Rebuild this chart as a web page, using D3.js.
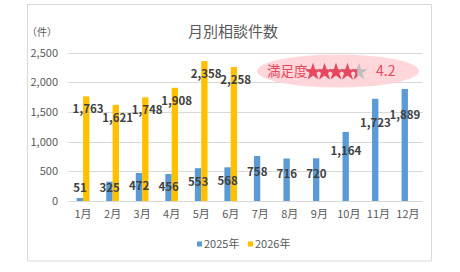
<!DOCTYPE html>
<html lang="ja">
<head>
<meta charset="utf-8">
<title>月別相談件数</title>
<script src="https://cdn.jsdelivr.net/npm/d3@7"></script>
<style>
  body { margin: 0; background: #fff; }
  svg text { font-family: "Noto Sans CJK JP", "Noto Sans", sans-serif; }
</style>
</head>
<body>
<script>
// data
var months = ["1月","2月","3月","4月","5月","6月","7月","8月","9月","10月","11月","12月"];
var seriesNames = ["2025年", "2026年"];
var values2025 = [51, 325, 472, 456, 553, 568, 758, 716, 720, 1164, 1723, 1889];
var values2026 = [1763, 1621, 1748, 1908, 2358, 2258];
var yTicks = [0, 500, 1000, 1500, 2000, 2500];
var rating = 4.2;

var colors = ["#5B9BD5", "#FFC000"];
var w = 460, h = 272;

var svg = d3.select("body").append("svg")
    .attr("width", w)
    .attr("height", h);

// chart frame
svg.append("rect")
    .attr("x", 27.5).attr("y", 4.5)
    .attr("width", 404).attr("height", 256.5)
    .attr("fill", "#fff")
    .attr("stroke", "#D9D9D9");

var x = d3.scaleBand()
    .domain(months)
    .range([68.3, 422.7])
    .paddingInner(0.57)
    .paddingOuter(0.285);

var xs = d3.scaleBand()
    .domain(seriesNames)
    .range([0, x.bandwidth()]);

var y = d3.scaleLinear()
    .domain([0, 2500])
    .range([201, 52.7]);

// grid
svg.append("g").selectAll("line")
    .data(yTicks)
    .enter().append("line")
    .attr("x1", 68.3).attr("x2", 422.7)
    .attr("y1", function(d) { return Math.round(y(d)) + 0.5; })
    .attr("y2", function(d) { return Math.round(y(d)) + 0.5; })
    .attr("stroke", "#D9D9D9");

// y axis labels
var yAxis = svg.append("g")
    .attr("transform", "translate(58,0)")
    .call(d3.axisLeft(y).tickValues(yTicks).tickSize(0).tickFormat(d3.format(",")));
yAxis.select(".domain").remove();
yAxis.selectAll("text")
    .attr("x", 0)
    .attr("fill", "#595959")
    .style("font-size", "11px");

// x axis labels
var xAxis = svg.append("g")
    .attr("transform", "translate(0,210)")
    .call(d3.axisBottom(x).tickSize(0));
xAxis.select(".domain").remove();
xAxis.selectAll("text")
    .attr("y", 0)
    .attr("dy", "0.71em")
    .attr("fill", "#595959")
    .style("font-size", "11px");

var series = [values2025, values2026];

series.forEach(function(vals, si) {
    var g = svg.append("g");
    g.selectAll("rect")
        .data(vals)
        .enter().append("rect")
        .attr("x", function(d, i) { return x(months[i]) + xs(seriesNames[si]); })
        .attr("width", xs.bandwidth())
        .attr("y", function(d) { return y(d); })
        .attr("height", function(d) { return y(0) - y(d); })
        .attr("fill", colors[si]);
});

// data labels (drawn after all bars so they sit on top)
series.forEach(function(vals, si) {
    svg.append("g").selectAll("text")
        .data(vals)
        .enter().append("text")
        .attr("x", function(d, i) {
            return x(months[i]) + x.bandwidth() / 2 + (si === 0 ? -3 : 5);
        })
        .attr("y", function(d) {
            if (si === 0) return Math.min(y(d) + 9 + d * 0.009, y(0) - 13);
            return y(d) + 13;
        })
        .attr("dy", "0.35em")
        .attr("text-anchor", "middle")
        .attr("fill", "#404040")
        .style("font-size", "11.5px")
        .style("font-weight", "bold")
        .text(d3.format(","));
});

// title + unit
svg.append("text")
    .attr("x", 233).attr("y", 32)
    .attr("dy", "0.35em")
    .attr("text-anchor", "middle")
    .attr("fill", "#595959")
    .style("font-size", "15px")
    .text("月別相談件数");

svg.append("text")
    .attr("x", 27).attr("y", 32)
    .attr("dy", "0.35em")
    .attr("fill", "#595959")
    .style("font-size", "10px")
    .text("（件）");

// satisfaction badge
var badge = svg.append("g");
badge.append("ellipse")
    .attr("cx", 338).attr("cy", 71)
    .attr("rx", 81).attr("ry", 16.5)
    .attr("fill", "#FFD3D6")
    .attr("opacity", 0.9);

var pink = "#E8475E";
badge.append("text")
    .attr("x", 267).attr("y", 71)
    .attr("dy", "0.35em")
    .attr("fill", pink)
    .style("font-size", "13.5px")
    .text("満足度");

var starPath = d3.symbol().type(d3.symbolStar).size(95)();
var starStep = 11.5;
var starX0 = 313;
var defs = svg.append("defs");
d3.range(5).forEach(function(i) {
    var frac = Math.max(0, Math.min(1, rating - i));
    var cx = starX0 + i * starStep;
    badge.append("path")
        .attr("d", starPath)
        .attr("transform", "translate(" + cx + ",72)")
        .attr("fill", "#BFBFBF");
    if (frac > 0) {
        var id = "clip" + i;
        // clip rect lives in the star's own (translated) coordinates
        defs.append("clipPath").attr("id", id)
            .append("rect")
            .attr("x", -7).attr("y", -12)
            .attr("width", frac === 1 ? 14 : 4 + frac * 6).attr("height", 24);
        badge.append("path")
            .attr("d", starPath)
            .attr("transform", "translate(" + cx + ",72)")
            .attr("clip-path", "url(#" + id + ")")
            .attr("fill", pink);
    }
});

badge.append("text")
    .attr("x", 376).attr("y", 71)
    .attr("dy", "0.35em")
    .attr("fill", pink)
    .style("font-size", "14px")
    .text(rating.toFixed(1));

// legend
var legendX = [197, 248];
var legend = svg.append("g");
seriesNames.forEach(function(name, i) {
    legend.append("rect")
        .attr("x", legendX[i]).attr("y", 241.5)
        .attr("width", 5).attr("height", 5)
        .attr("fill", colors[i]);
    legend.append("text")
        .attr("x", legendX[i] + 7).attr("y", 244)
        .attr("dy", "0.35em")
        .attr("fill", "#595959")
        .style("font-size", "11px")
        .text(name);
});
</script>
</body>
</html>
